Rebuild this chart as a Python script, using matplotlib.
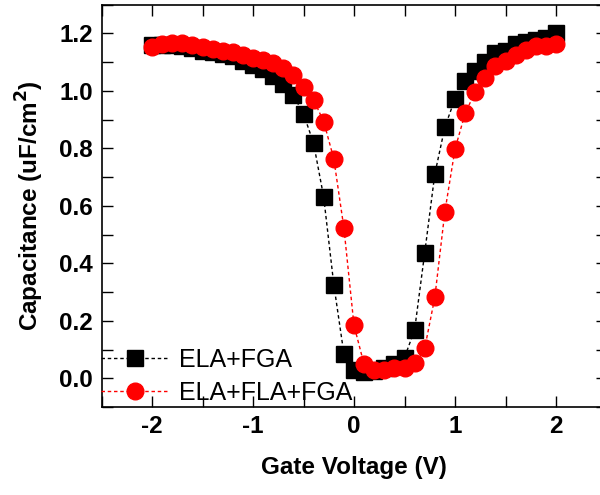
import numpy as np
import matplotlib
matplotlib.use("Agg")
import matplotlib.pyplot as plt
from matplotlib.ticker import MultipleLocator

plt.rcParams['font.family'] = ['Liberation Sans', 'DejaVu Sans']

voltage = [round(-2.0 + 0.1 * i, 1) for i in range(41)]

ela_fga = [1.16, 1.16, 1.16, 1.155, 1.15, 1.14, 1.135, 1.128, 1.12, 1.105,
           1.09, 1.077, 1.053, 1.024, 0.984, 0.92, 0.817, 0.63, 0.326, 0.085,
           0.03, 0.022, 0.025, 0.035, 0.05, 0.072, 0.168, 0.436, 0.71, 0.874,
           0.972, 1.034, 1.068, 1.10, 1.13, 1.14, 1.164, 1.17, 1.176, 1.184, 1.20]

ela_fla_fga = [1.153, 1.164, 1.167, 1.167, 1.16, 1.153, 1.146, 1.14, 1.134, 1.126,
               1.115, 1.107, 1.095, 1.08, 1.056, 1.014, 0.968, 0.893, 0.763, 0.523,
               0.184, 0.048, 0.03, 0.03, 0.034, 0.036, 0.053, 0.104, 0.281, 0.58,
               0.797, 0.921, 0.996, 1.046, 1.086, 1.105, 1.126, 1.143, 1.155, 1.155, 1.164]

labels = ["ELA+FGA", "ELA+FLA+FGA"]

fig = plt.figure(figsize=(6.0, 4.95), dpi=100)
ax = fig.add_axes([101.5/600, 88/495, 505/600, 402.5/495])

ax.plot(voltage, ela_fga, color='black', linestyle=(0, (2.5, 2)), linewidth=1,
        marker='s', markersize=11, markerfacecolor='black', markeredgecolor='black',
        label=labels[0], zorder=3)
ax.plot(voltage, ela_fla_fga, color='red', linestyle=(0, (2.5, 2)), linewidth=1,
        marker='o', markersize=12, markerfacecolor='red', markeredgecolor='red',
        label=labels[1], zorder=4)

ax.set_xlim(-2.5, 2.5)
ax.set_ylim(-0.1, 1.3)
ax.xaxis.set_minor_locator(MultipleLocator(0.5))
ax.yaxis.set_minor_locator(MultipleLocator(0.1))
ax.set_yticks([0.0, 0.2, 0.4, 0.6, 0.8, 1.0, 1.2])
ax.set_yticklabels(['0.0', '0.2', '0.4', '0.6', '0.8', '1.0', '1.2'])
ax.set_xticks([-2, -1, 0, 1, 2])
ax.set_xticklabels(['-2', '-1', '0', '1', '2'])

ax.tick_params(which='both', direction='in', top=True, right=True, length=8, width=1)
ax.tick_params(which='major', labelsize=17.5, pad=6)
for lab in ax.get_xticklabels() + ax.get_yticklabels():
    lab.set_fontweight('bold')
for s in ax.spines.values():
    s.set_linewidth(1.2)

ax.set_xlabel('Gate Voltage (V)', fontsize=17.5, fontweight='bold', labelpad=13)
ax.set_ylabel('Capacitance (uF/cm$^\\mathbf{2}$)', fontsize=17.5, fontweight='bold', labelpad=10)

leg = ax.legend(loc='lower left', bbox_to_anchor=(-0.01, -0.008), frameon=False,
                fontsize=18, handlelength=2.7, handletextpad=0.4, numpoints=1,
                borderaxespad=0.0, labelspacing=0.38, borderpad=0.2)

fig.savefig('out.png', dpi=100)
